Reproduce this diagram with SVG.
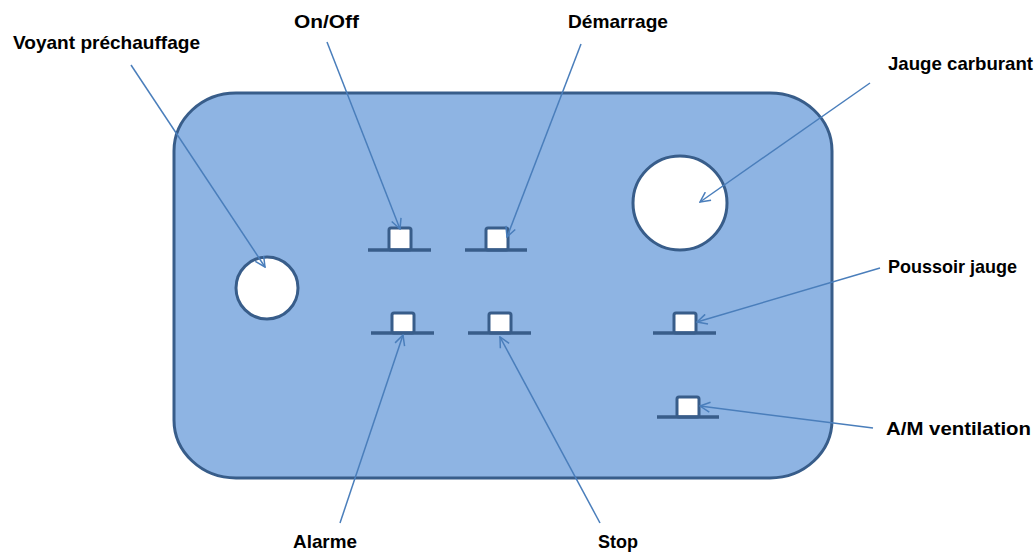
<svg xmlns="http://www.w3.org/2000/svg" width="1036" height="552" viewBox="0 0 1036 552">
<style>
.panel{fill:#8EB4E3;stroke:#385D8A;stroke-width:3}
.hole{fill:#FFFFFF;stroke:#385D8A;stroke-width:3}
.btn{fill:#FFFFFF;stroke:#385D8A;stroke-width:3}
.base{stroke:#385D8A;stroke-width:3.5;fill:none}
.conn{stroke:#4A7EBB;stroke-width:1.5;fill:none;marker-end:url(#arr)}
.lbl{font-family:"Liberation Sans",Arial,sans-serif;font-weight:bold;font-size:19px;fill:#000000}
</style>
<defs>
<marker id="arr" viewBox="0 0 12 12" refX="11" refY="6" markerWidth="12" markerHeight="12" markerUnits="userSpaceOnUse" orient="auto">
<path d="M1,1 L11,6 L1,11" fill="none" stroke="#4A7EBB" stroke-width="1.5"/>
</marker>
</defs>
<rect width="1036" height="552" fill="#FFFFFF"/>
<g id="panel">
<rect class="panel" x="174" y="93" width="658" height="385" rx="62" ry="58"/>
</g>
<g id="voyant-prechauffage">
<circle class="hole" cx="267" cy="288" r="31"/>
</g>
<g id="jauge-carburant">
<circle class="hole" cx="680" cy="203" r="47"/>
</g>
<g id="on-off">
<rect class="btn" x="389" y="228" width="22" height="22" rx="2"/>
<line class="base" x1="368" y1="250" x2="431" y2="250"/>
</g>
<g id="demarrage">
<rect class="btn" x="486" y="228" width="22" height="22" rx="2"/>
<line class="base" x1="465" y1="250" x2="527" y2="250"/>
</g>
<g id="alarme">
<rect class="btn" x="392" y="313" width="22" height="20" rx="2"/>
<line class="base" x1="371" y1="333" x2="434" y2="333"/>
</g>
<g id="stop">
<rect class="btn" x="489" y="313" width="22" height="20" rx="2"/>
<line class="base" x1="468" y1="333" x2="531" y2="333"/>
</g>
<g id="poussoir-jauge">
<rect class="btn" x="674" y="313" width="22" height="20" rx="2"/>
<line class="base" x1="653" y1="333" x2="716" y2="333"/>
</g>
<g id="am-ventilation">
<rect class="btn" x="677" y="397" width="22" height="20" rx="2"/>
<line class="base" x1="657" y1="417" x2="719" y2="417"/>
</g>
<g id="connectors">
<line class="conn" x1="131" y1="65" x2="265" y2="267"/>
<line class="conn" x1="327" y1="42" x2="400" y2="229"/>
<line class="conn" x1="581" y1="44" x2="507" y2="237"/>
<line class="conn" x1="870" y1="83" x2="700" y2="202"/>
<line class="conn" x1="880" y1="268" x2="697" y2="322"/>
<line class="conn" x1="873" y1="428" x2="700" y2="406"/>
<line class="conn" x1="340" y1="523" x2="403" y2="335"/>
<line class="conn" x1="600" y1="523" x2="500" y2="337"/>
</g>
<g id="labels">
<text class="lbl" x="13" y="49" textLength="187" lengthAdjust="spacingAndGlyphs">Voyant préchauffage</text>
<text class="lbl" x="294" y="28" textLength="65" lengthAdjust="spacingAndGlyphs">On/Off</text>
<text class="lbl" x="568" y="28" textLength="100" lengthAdjust="spacingAndGlyphs">Démarrage</text>
<text class="lbl" x="888" y="70" textLength="145" lengthAdjust="spacingAndGlyphs">Jauge carburant</text>
<text class="lbl" x="888" y="273" textLength="129" lengthAdjust="spacingAndGlyphs">Poussoir jauge</text>
<text class="lbl" x="886" y="435" textLength="145" lengthAdjust="spacingAndGlyphs">A/M ventilation</text>
<text class="lbl" x="293" y="548" textLength="64" lengthAdjust="spacingAndGlyphs">Alarme</text>
<text class="lbl" x="598" y="548" textLength="40" lengthAdjust="spacingAndGlyphs">Stop</text>
</g>
</svg>
